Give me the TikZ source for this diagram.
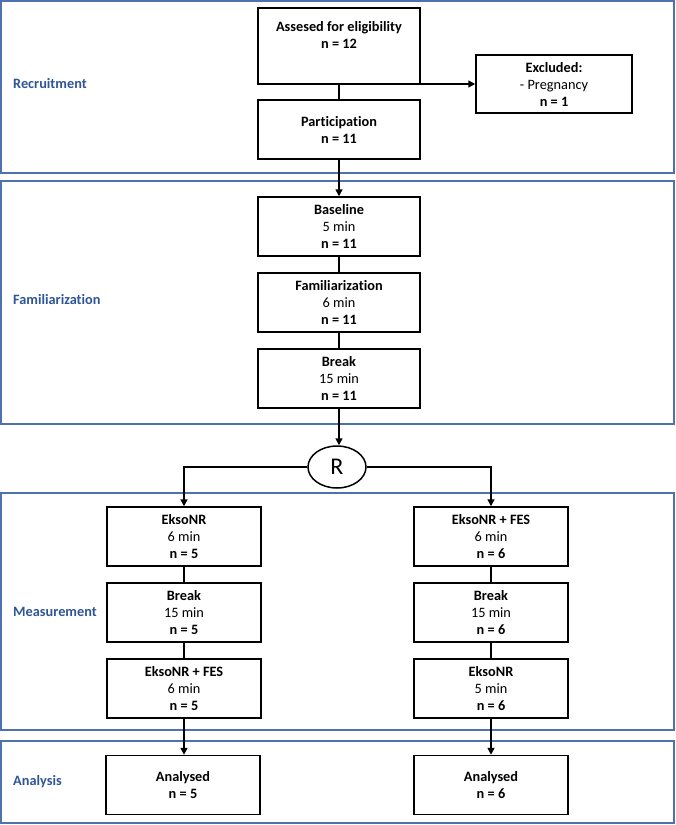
\documentclass[tikz,border=0pt]{standalone}
\usepackage{fontspec}
\setmainfont[Ligatures=NoCommon]{Carlito}
\usetikzlibrary{arrows.meta,shapes.geometric}
\definecolor{panelblue}{HTML}{4F71B0}
\definecolor{labelblue}{HTML}{2F5597}
\begin{document}
\begin{tikzpicture}[x=1pt,y=-1pt,
  panel/.style={draw=panelblue,line width=1.6pt},
  box/.style={draw=black,line width=1.5pt,fill=white,align=center,inner sep=0pt,font=\fontsize{14.3}{17}\selectfont},
  lbl/.style={text=labelblue,font=\fontsize{14.3}{16}\selectfont\bfseries,anchor=west,inner sep=0pt},
  con/.style={line width=1.5pt},
  arr/.style={line width=1.5pt,-{Triangle[length=7pt,width=7pt]}}]
\useasboundingbox (0,0) rectangle (676,825);
% panels
\draw[panel] (1,1) rectangle (674,173);
\draw[panel] (1,181) rectangle (674,424);
\draw[panel] (1,493) rectangle (674,730);
\draw[panel] (1,741) rectangle (674,823);
\node[lbl] (lrec) at (13,84) {Recruitment};
\node[lbl] (lfam) at (13,300) {Familiarization};
\node[lbl] (lmea) at (13,612) {Measurement};
\node[lbl] (lana) at (13,782) {Analysis};
% boxes
\node[box,minimum width=162pt,minimum height=76pt] (assess) at (339,46) {\textbf{Assesed for eligibility}\\\textbf{n = 12}\\\strut};
\node[box,minimum width=156pt,minimum height=58pt] (excl) at (554,84) {\textbf{Excluded:}\\- Pregnancy\\\textbf{n = 1}};
\node[box,minimum width=162pt,minimum height=59pt] (part) at (339,129.5) {\textbf{Participation}\\\textbf{n = 11}};
\node[box,minimum width=162pt,minimum height=59pt] (base) at (339,226.5) {\textbf{Baseline}\\5 min\\\textbf{n = 11}};
\node[box,minimum width=162pt,minimum height=59pt] (fam) at (339,302.5) {\textbf{Familiarization}\\6 min\\\textbf{n = 11}};
\node[box,minimum width=162pt,minimum height=59pt] (brk) at (339,378.5) {\textbf{Break}\\15 min\\\textbf{n = 11}};
\node[draw=black,line width=1.5pt,ellipse,minimum width=58pt,minimum height=42pt,inner sep=0pt,font=\fontsize{24}{24}\selectfont] (R) at (337,467) {R};
\node[box,minimum width=154pt,minimum height=59pt] (l1) at (184,536.5) {\textbf{EksoNR}\\6 min\\\textbf{n = 5}};
\node[box,minimum width=154pt,minimum height=59pt] (l2) at (184,612.5) {\textbf{Break}\\15 min\\\textbf{n = 5}};
\node[box,minimum width=154pt,minimum height=59pt] (l3) at (184,688.5) {\textbf{EksoNR + FES}\\6 min\\\textbf{n = 5}};
\node[box,minimum width=154pt,minimum height=59pt] (l4) at (183,785) {\textbf{Analysed}\\\textbf{n = 5}};
\node[box,minimum width=154pt,minimum height=59pt] (r1) at (491,536.5) {\textbf{EksoNR + FES}\\6 min\\\textbf{n = 6}};
\node[box,minimum width=154pt,minimum height=59pt] (r2) at (491,612.5) {\textbf{Break}\\15 min\\\textbf{n = 6}};
\node[box,minimum width=154pt,minimum height=59pt] (r3) at (491,688.5) {\textbf{EksoNR}\\5 min\\\textbf{n = 6}};
\node[box,minimum width=154pt,minimum height=59pt] (r4) at (491,785) {\textbf{Analysed}\\\textbf{n = 6}};
% connectors
\coordinate (split) at (339,84);
\draw[con] (assess) -- (part);
\draw[arr] (split) -- (excl.west);
\draw[arr] (part) -- (base);
\draw[con] (base) -- (fam);
\draw[con] (fam) -- (brk);
\draw[arr] (brk.south) -- (brk.south |- R.north);
\draw[arr] (R.west) -| (l1.north);
\draw[arr] (R.east) -| (r1.north);
\draw[con] (l1) -- (l2);
\draw[con] (l2) -- (l3);
\draw[con] (r1) -- (r2);
\draw[con] (r2) -- (r3);
\draw[arr] (l3.south) -- (l3.south |- l4.north);
\draw[arr] (r3) -- (r4);
\end{tikzpicture}
\end{document}
